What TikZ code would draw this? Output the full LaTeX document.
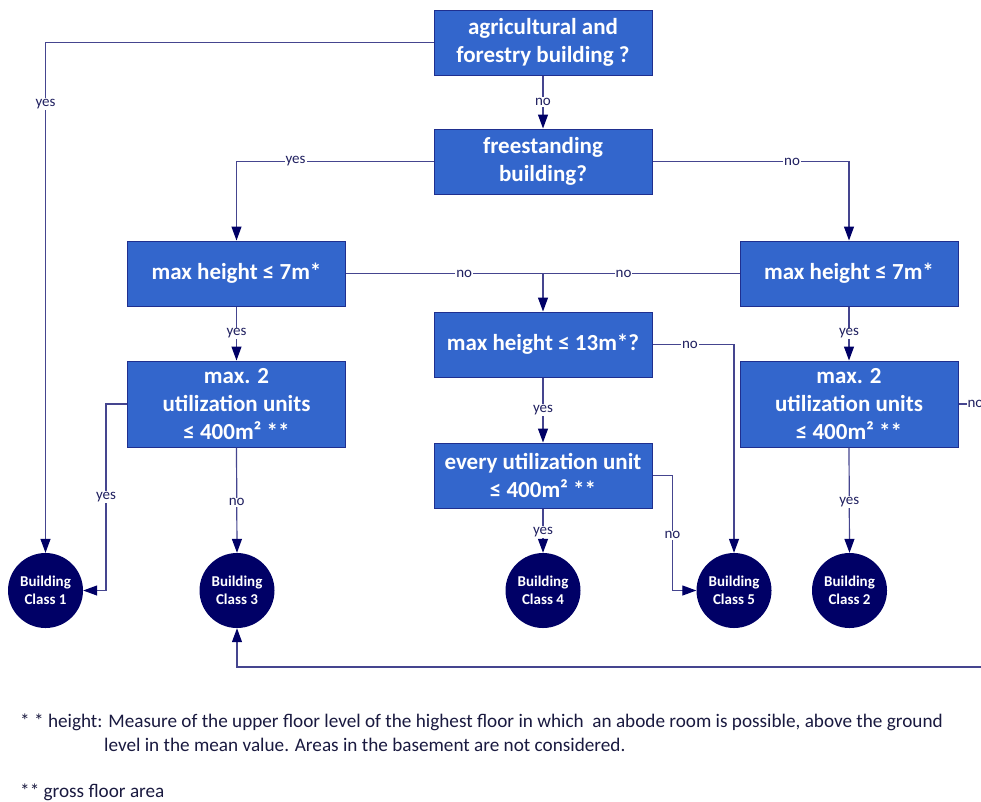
\documentclass[tikz,border=0pt]{standalone}
\usepackage{fontspec}
\setmainfont{Carlito}
\usetikzlibrary{arrows.meta}
\definecolor{boxfill}{HTML}{3366CC}
\definecolor{boxline}{HTML}{1F2F8F}
\definecolor{navy}{HTML}{000066}
\definecolor{linecol}{HTML}{45458F}
\definecolor{labcol}{HTML}{202060}
\definecolor{notecol}{HTML}{1A1A40}
\tikzset{
  box/.style={draw=boxline, fill=boxfill, line width=1pt, minimum width=218pt,
    minimum height=65pt, text=white, align=center, inner sep=0pt,
    font=\bfseries\fontsize{23}{28}\selectfont},
  tallbox/.style={box, minimum height=86pt},
  endpt/.style={circle, fill=navy, minimum size=75pt, inner sep=0pt, text=white,
    align=center, font=\bfseries\fontsize{15}{18}\selectfont},
  link/.style={draw=linecol, line width=1.2pt},
  flow/.style={link, -{Triangle[length=14pt,width=10pt,color=navy]}},
  lab/.style={fill=white, inner sep=1pt, text=labcol, font=\fontsize{15}{16}\selectfont},
  note/.style={anchor=west, inner sep=0pt, text=notecol, font=\fontsize{19.2}{20}\selectfont}
}
\begin{document}
\begin{tikzpicture}[x=1pt, y=-1pt]
\clip (0,0) rectangle (981,801);
\fill[white] (0,0) rectangle (981,801);

% decision boxes
\node[box] (agri) at (543,42.5) {agricultural and\\forestry building ?};
\node[box] (free) at (543,161.5) {freestanding\\building?};
\node[box] (hl) at (236.5,273.5) {max height ≤ 7m*};
\node[box] (hr) at (849,273.5) {max height ≤ 7m*};
\node[box] (hm) at (543,344.5) {max height ≤ 13m*?};
\node[tallbox] (ul) at (236.5,404) {max. 2\\utilization units\\≤ 400m² **};
\node[tallbox] (ur) at (849,404) {max. 2\\utilization units\\≤ 400m² **};
\node[box] (ev) at (543,475.5) {every utilization unit\\≤ 400m² **};

% building classes
\node[endpt] (bc1) at (45.5,590.5) {Building\\Class 1};
\node[endpt] (bc3) at (237,590.5) {Building\\Class 3};
\node[endpt] (bc4) at (543,590.5) {Building\\Class 4};
\node[endpt] (bc5) at (734,590.5) {Building\\Class 5};
\node[endpt] (bc2) at (849.5,590.5) {Building\\Class 2};

\coordinate (mj) at (543,273.5);
\coordinate (rb) at (998,667);

% connectors
\draw[flow] (agri.west) -| node[lab,pos=0.56]{yes} (bc1.north);
\draw[flow] (agri.south) -- node[lab]{no} (free.north);
\draw[flow] (free.west) -| node[lab,pos=0.35]{yes} (hl.north);
\draw[flow] (free.east) -| node[lab,pos=0.355]{no} (hr.north);
\draw[link] (hl.east) -- node[lab,pos=0.6]{no} (mj);
\draw[link] (hr.west) -- node[lab,pos=0.59]{no} (mj);
\draw[flow] (mj) -- (hm.north);
\draw[flow] (hl.south) -- node[lab]{yes} (ul.north);
\draw[flow] (hr.south) -- node[lab]{yes} (ur.north);
\draw[flow] (hm.south) -- node[lab]{yes} (ev.north);
\draw[flow] (hm.east) -| node[lab,pos=0.23]{no} (bc5.north);
\draw[flow] (ev.east) -- ++(20,0) |- node[lab,pos=0.26]{no} (bc5.west);
\draw[flow] (ev.south) -- node[lab,pos=0.53]{yes} (bc4.north);
\draw[flow] (ul.west) -- ++(-21,0) |- node[lab,pos=0.25]{yes} (bc1.east);
\draw[flow] (ul.south) -- node[lab,pos=0.52]{no} (bc3.north);
\draw[flow] (ur.south) -- node[lab,pos=0.52]{yes} (bc2.north);
\draw[flow] (ur.east) -- node[lab,pos=0.43]{no} (ur.east -| rb) -- (rb) -| (bc3.south);

% footnotes
\node[note] (n1) at (20,722) {* * height: Measure of the upper floor level of the highest floor in which \ an abode room is possible, above the ground};
\node[note] (n2) at (104,745) {level in the mean value. Areas in the basement are not considered.};
\node[note] (n3) at (20,792) {** gross floor area};
\end{tikzpicture}
\end{document}
